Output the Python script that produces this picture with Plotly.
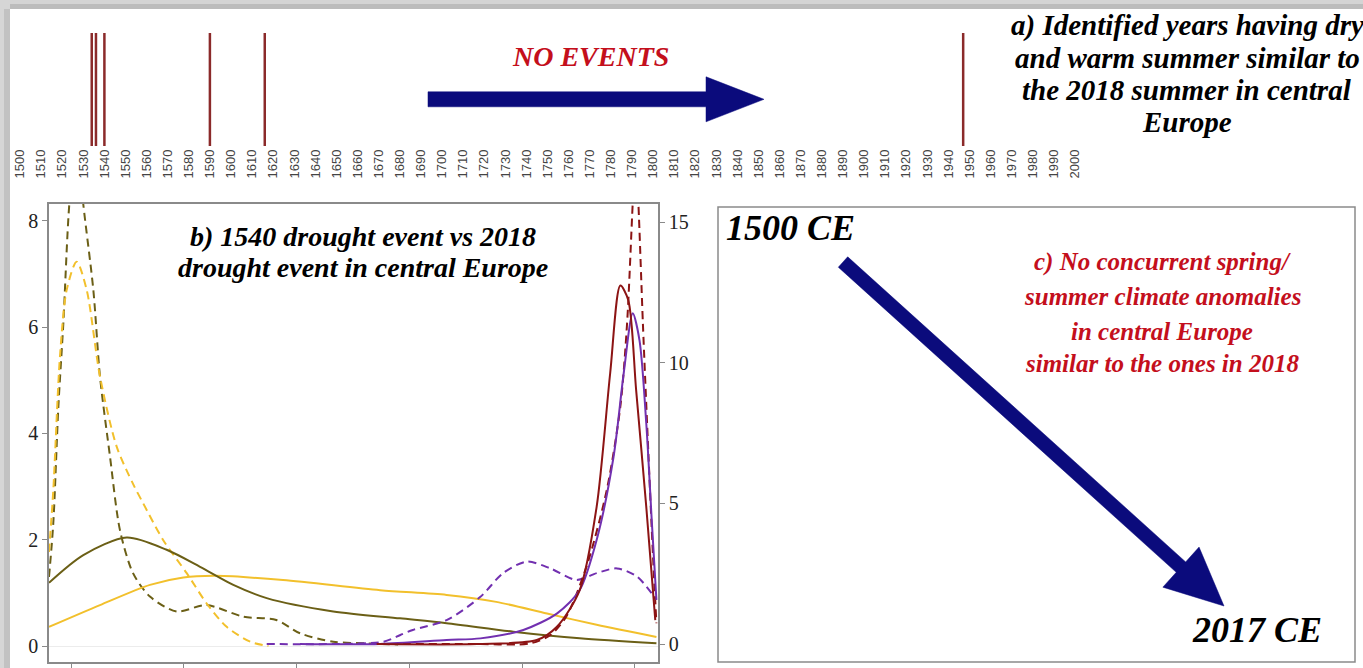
import plotly.graph_objects as go

W, H = 1363, 668

# ---------------- data ----------------
# Panel a: years with a dry and warm summer comparable to 2018
event_years = [1534, 1536, 1540, 1590, 1616, 1947]
timeline_ticks = list(range(1500, 2001, 10))

# Panel b: density curves (left axis: olive / yellow, right axis: purple / red)
olive_solid_x = [-0.195, 0.109, 0.494, 0.848, 1.144, 1.439, 1.735, 2.325, 2.917, 3.33, 3.92, 4.51, 5.19]
olive_solid_y = [1.19, 1.71, 2.04, 1.81, 1.49, 1.15, 0.90, 0.65, 0.52, 0.43, 0.27, 0.145, 0.05]

yellow_solid_x = [-0.195, 0.257, 0.70, 0.996, 1.29, 1.88, 2.74, 3.33, 3.77, 4.22, 4.66, 5.19]
yellow_solid_y = [0.36, 0.77, 1.15, 1.29, 1.32, 1.24, 1.05, 0.96, 0.83, 0.61, 0.40, 0.17]

olive_dash_x = [-0.195, -0.157, -0.112, -0.068, -0.015, 0.05, 0.109, 0.198, 0.257, 0.346, 0.434,
                0.55, 0.70, 0.937, 1.20, 1.53, 1.82, 2.03, 2.325, 2.62, 2.9]
olive_dash_y = [1.3, 2.31, 4.5, 6.07, 8.31, 9.6, 8.31, 6.70, 5.07, 3.56, 2.18,
                1.37, 0.93, 0.65, 0.77, 0.55, 0.49, 0.24, 0.08, 0.05, 0.03]

yellow_dash_x = [-0.195, -0.157, -0.098, -0.038, 0.05, 0.139, 0.257, 0.405, 0.55, 0.641, 0.818,
                 1.026, 1.203, 1.38, 1.59, 1.75]
yellow_dash_y = [1.77, 2.93, 5.44, 6.70, 7.23, 6.70, 5.07, 3.75, 3.05, 2.68, 1.99,
                 1.37, 0.80, 0.36, 0.08, 0.0]

purple_solid_x = [2.03, 2.74, 3.33, 3.63, 4.01, 4.31, 4.51, 4.66, 4.81, 4.90, 4.98, 5.04, 5.10, 5.15, 5.19]
purple_solid_y = [0.0, 0.0, 0.14, 0.20, 0.50, 1.09, 1.92, 3.70, 6.66, 9.63, 11.76, 10.8, 7.85, 4.29, 1.57]

red_solid_x = [2.71, 3.6, 4.13, 4.31, 4.51, 4.66, 4.78, 4.87, 4.94, 5.01, 5.10, 5.18]
red_solid_y = [0.0, 0.0, 0.14, 0.62, 1.92, 4.88, 9.63, 12.75, 12.24, 9.04, 4.88, 0.85]

red_dash_x = [2.71, 3.6, 4.07, 4.25, 4.39, 4.57, 4.75, 4.87, 4.93, 4.98, 5.005, 5.03, 5.07, 5.12, 5.16, 5.19]
red_dash_y = [0.0, 0.0, 0.02, 0.32, 0.97, 2.75, 5.48, 8.44, 11.41, 15.68, 17.5, 15.68, 11.41, 6.66, 3.1, 0.74]

purple_dash_x = [1.735, 2.33, 2.77, 2.92, 3.03, 3.33, 3.63, 3.83, 4.04, 4.25, 4.48, 4.66, 4.84, 5.02, 5.19]
purple_dash_y = [0.0, 0.0, 0.08, 0.32, 0.50, 0.85, 1.68, 2.52, 2.93, 2.69, 2.28, 2.52, 2.69, 2.39, 1.57]

left_ticks = [0, 2, 4, 6, 8]
right_ticks = [0, 5, 10, 15]
bottom_ticks = [0, 1, 2, 3, 4, 5]

# ---------------- styles ----------------
OLIVE = "#6b5f16"
YELLOW = "#f2c02c"
PURPLE = "#7230b0"
DARKRED = "#8c1414"
EVENT = "#8b2a2a"
NAVY = "#0b0b7c"
RED_TXT = "#c40f1c"
FRAME = "#8a8a8a"
DASH = "8px,5px"
SERIF = "Liberation Serif"


def fx(p):
    return p / W


def fy(p):
    return 1 - p / H


fig = go.Figure()

# Panel a: event lines on the timeline
for yr in event_years:
    fig.add_trace(go.Scatter(x=[yr, yr], y=[0, 1], mode="lines",
                             line=dict(color=EVENT, width=2.5),
                             xaxis="x", yaxis="y", showlegend=False, hoverinfo="skip"))


# Panel b: curves
def curve(xs, ys, color, dash, axis):
    fig.add_trace(go.Scatter(x=xs, y=ys, mode="lines",
                             line=dict(color=color, width=2, dash=dash, shape="spline", smoothing=0.8),
                             xaxis="x2", yaxis=axis, showlegend=False, hoverinfo="skip"))


curve(purple_dash_x, purple_dash_y, PURPLE, DASH, "y3")
curve(olive_dash_x, olive_dash_y, OLIVE, DASH, "y2")
curve(yellow_dash_x, yellow_dash_y, YELLOW, DASH, "y2")
curve(yellow_solid_x, yellow_solid_y, YELLOW, "solid", "y2")
curve(olive_solid_x, olive_solid_y, OLIVE, "solid", "y2")
curve(red_dash_x, red_dash_y, DARKRED, DASH, "y3")
curve(purple_solid_x, purple_solid_y, PURPLE, "solid", "y3")
curve(red_solid_x, red_solid_y, DARKRED, "solid", "y3")

# timeline scale: 1500 -> 20 px, 2000 -> 1075 px
ppy = (1075 - 20) / 500.0
t0 = 1500 - 20 / ppy
t1 = t0 + W / ppy

tick_font = dict(family=SERIF, size=20, color="#222222")

fig.update_layout(
    width=W, height=H,
    margin=dict(l=0, r=0, t=0, b=0),
    paper_bgcolor="white", plot_bgcolor="rgba(0,0,0,0)",
    xaxis=dict(domain=[0, 1], range=[t0, t1], anchor="y",
               tickvals=timeline_ticks, ticktext=[str(t) for t in timeline_ticks],
               tickangle=-90, tickfont=dict(family="Liberation Sans", size=13, color="#444444"),
               showgrid=False, zeroline=False, showline=False, ticks=""),
    yaxis=dict(domain=[fy(146), fy(33)], range=[0, 1], visible=False),
    xaxis2=dict(domain=[fx(49), fx(658)], range=[-0.195, 5.204], anchor="y2",
                tickvals=bottom_ticks, showticklabels=False, ticks="outside", ticklen=7,
                tickcolor=FRAME, showline=True, linecolor=FRAME, linewidth=1.5, mirror=True,
                showgrid=False, zeroline=False),
    yaxis2=dict(domain=[fy(662), fy(204)], range=[-0.301, 8.315], anchor="x2",
                tickvals=left_ticks, ticks="outside", ticklen=5, tickcolor=FRAME,
                tickfont=tick_font, showline=True, linecolor=FRAME, linewidth=1.5,
                showgrid=False, zeroline=True, zerolinecolor="#ececec", zerolinewidth=1),
    yaxis3=dict(range=[-0.64, 15.65], overlaying="y2", side="right", anchor="x2",
                tickvals=right_ticks, ticks="outside", ticklen=5, tickcolor=FRAME,
                tickfont=tick_font, showline=True, linecolor=FRAME, linewidth=1.5,
                showgrid=False, zeroline=False),
)

shapes = []

# soft grey border along the top and left edges
shapes.append(dict(type="rect", xref="paper", yref="paper", x0=0, x1=1, y0=fy(9), y1=1,
                   fillcolor="#d4d4d4", line=dict(width=0), layer="above"))
shapes.append(dict(type="rect", xref="paper", yref="paper", x0=fx(10), x1=1, y0=fy(9), y1=fy(4),
                   fillcolor="#bcbcbc", line=dict(width=0), layer="above"))
shapes.append(dict(type="rect", xref="paper", yref="paper", x0=0, x1=fx(10), y0=0, y1=1,
                   fillcolor="#d6d6d6", line=dict(width=0), layer="above"))
shapes.append(dict(type="rect", xref="paper", yref="paper", x0=fx(4), x1=fx(10), y0=0, y1=fy(9),
                   fillcolor="#c2c2c2", line=dict(width=0), layer="above"))

# panel c frame
shapes.append(dict(type="rect", xref="paper", yref="paper", x0=fx(718), x1=fx(1355),
                   y0=fy(662), y1=fy(207), line=dict(color=FRAME, width=1.5)))


def arrow(tail, tip, shaft_w, head_len, head_w):
    (x0, y0), (x1, y1) = tail, tip
    dx, dy = x1 - x0, y1 - y0
    L = (dx * dx + dy * dy) ** 0.5
    ux, uy = dx / L, dy / L
    nx, ny = -uy, ux
    bx, by = x1 - ux * head_len, y1 - uy * head_len
    pts = [
        (x0 + nx * shaft_w / 2, y0 + ny * shaft_w / 2),
        (bx + nx * shaft_w / 2, by + ny * shaft_w / 2),
        (bx + nx * head_w / 2, by + ny * head_w / 2),
        (x1, y1),
        (bx - nx * head_w / 2, by - ny * head_w / 2),
        (bx - nx * shaft_w / 2, by - ny * shaft_w / 2),
        (x0 - nx * shaft_w / 2, y0 - ny * shaft_w / 2),
    ]
    path = "M " + " L ".join(f"{fx(a):.5f},{fy(b):.5f}" for a, b in pts) + " Z"
    return dict(type="path", xref="paper", yref="paper", path=path,
                fillcolor=NAVY, line=dict(color=NAVY, width=0.5))


shapes.append(arrow((428, 99.3), (764, 99.3), 15, 58, 45))
shapes.append(arrow((843, 262), (1224, 606), 14, 58, 54))

fig.update_layout(shapes=shapes)

annotations = []


def label(text, cx, cy, size, color="black"):
    annotations.append(dict(text=text, x=fx(cx), y=fy(cy), xref="paper", yref="paper",
                            xanchor="center", yanchor="middle", showarrow=False,
                            font=dict(family=SERIF, size=size, color=color,
                                      weight="bold", style="italic")))


label("NO EVENTS", 590, 57, 28, RED_TXT)
for txt, yy in [("a) Identified years having dry", 25), ("and warm summer similar to", 58),
                ("the 2018 summer in central", 90), ("Europe", 122)]:
    label(txt, 1187, yy, 29)

for txt, yy in [("b) 1540 drought event vs 2018", 236), ("drought event in central Europe", 268)]:
    label(txt, 363, yy, 28)

label("1500 CE", 791, 228, 36)
label("2017 CE", 1257, 630, 36)
for txt, yy in [("c) No concurrent spring/", 262), ("summer climate anomalies", 297),
                ("in central Europe", 331), ("similar to the ones in 2018", 363)]:
    label(txt, 1162, yy, 25, RED_TXT)

fig.update_layout(annotations=annotations)

fig.write_html("out.html")
